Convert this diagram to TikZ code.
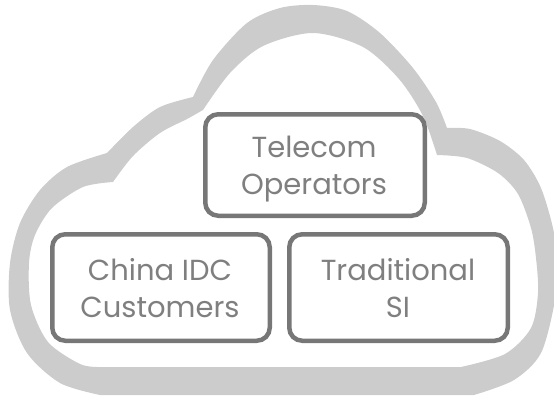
\documentclass[tikz,border=0pt]{standalone}
\usepackage{fontspec}
\setmainfont{Poppins}
\usetikzlibrary{positioning,calc}
\definecolor{cloudgray}{HTML}{CCCCCC}
\definecolor{tileline}{HTML}{777777}
\definecolor{tiletext}{HTML}{7F7F7F}
\tikzset{
  tile/.style={
    draw=tileline,
    line width=4.5pt,
    rounded corners=13pt,
    fill=white,
    inner sep=0pt,
  },
  tilelabel/.style={
    text=tiletext,
    font=\fontsize{29}{37}\selectfont,
    align=center,
    inner sep=0pt,
  },
}

\begin{document}
\begin{tikzpicture}[x=1pt,y=-1pt]
  \useasboundingbox (0,0) rectangle (554,396);

  % cloud ring
  \fill[cloudgray, even odd rule]
    plot[smooth] coordinates {(107,153) (67,167) (40,190) (20,223) (10,263) (10,310) (27,353) (60,383) (100,395)}
    -- plot[smooth] coordinates {(474,395) (514,380) (541,353) (555,300) (557,260) (553,228) (541,188) (524,160) (500,141) (470,129) (447,128)}
    -- plot[smooth] coordinates {(447,128) (436,102) (413,68) (380,33) (347,11) (313,5) (280,8) (247,23) (213,60) (193,97)}
    -- plot[smooth] coordinates {(193,97) (160,107) (133,127) (107,153)}
    -- cycle
    plot[smooth] coordinates {(113,182) (83,187) (52,208) (35,235) (29,263) (31,305) (48,342) (80,364) (100,367)}
    -- plot[smooth] coordinates {(461,367) (505,354) (531,328) (538,293) (536,258) (531,228) (518,194) (498,173) (467,158) (437,155)}
    -- plot[smooth] coordinates {(437,155) (423,116) (399,79) (363,47) (313,33) (263,46) (230,73) (203,110)}
    -- plot[smooth] coordinates {(203,110) (187,119) (160,133) (133,156) (113,182)}
    -- cycle;

  % tiles
  \node[tile, minimum width=219.5pt, minimum height=101.5pt] (telecom) at (315,165) {};
  \node[tile, minimum width=217.5pt, minimum height=106.5pt] (china) at (161,287.5) {};
  \node[tile, minimum width=218.5pt, minimum height=106.5pt] (trad) at (398.5,287.5) {};

  % labels
  \node[tilelabel] (telecom-text) at (314,169) {Telecom\\Operators};
  \node[tilelabel] (china-text) at (160,288) {China IDC\\Customers};
  \node[tilelabel] (trad-text) at (398,288) {Traditional\\SI};
\end{tikzpicture}
\end{document}
